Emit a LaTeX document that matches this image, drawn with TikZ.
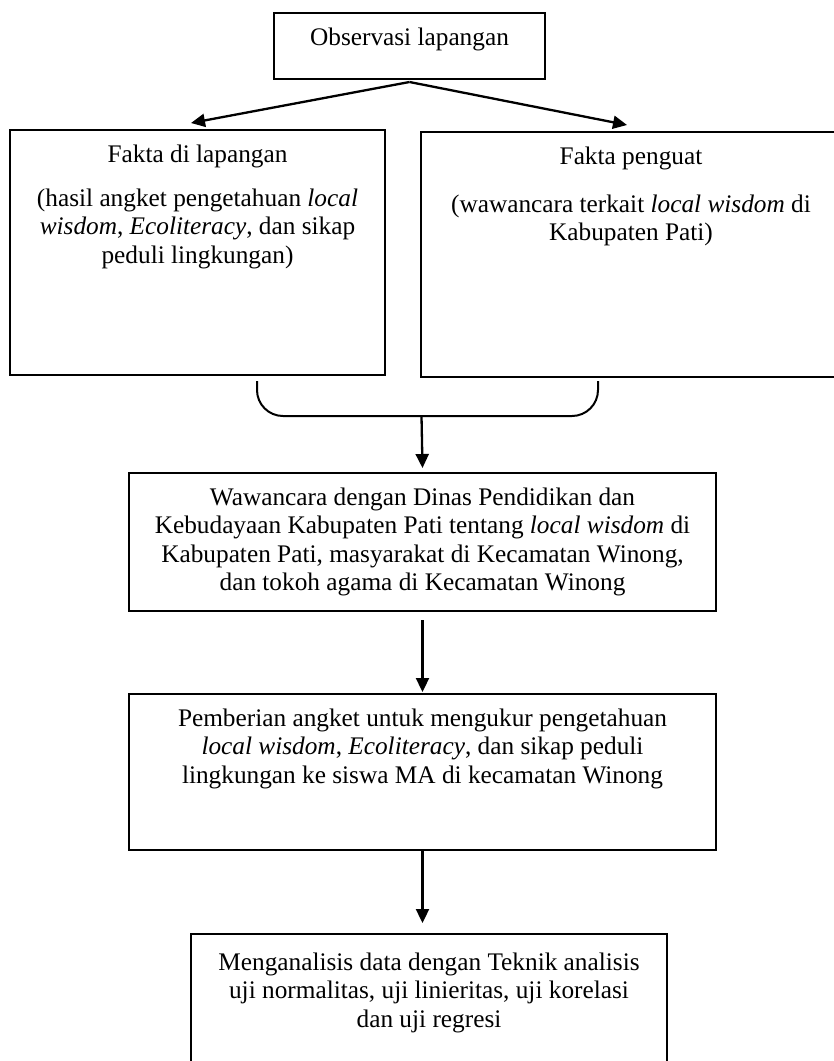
\documentclass[tikz,border=0pt]{standalone}
\usepackage{fontspec}
\setmainfont{Liberation Serif}
\usetikzlibrary{arrows.meta}
\newcommand{\boxtext}[3]{\parbox[t][#2][t]{#1}{\centering\fontsize{25.3pt}{28.5pt}\selectfont\rule{0pt}{32pt}#3}}
\begin{document}
\begin{tikzpicture}[x=1pt, y=-1pt,
		flowbox/.style={draw, line width=2pt, inner sep=0pt, anchor=north west},
		arr/.style={line width=2.3pt, -{Triangle[length=14pt,width=13pt]}},
		bracket/.style={line width=2pt, rounded corners=26pt}]
			\useasboundingbox (0,0) rectangle (834,1061);
			\node[flowbox] (obs) at (273,12) {\boxtext{271pt}{66pt}{Observasi lapangan}};
			\node[flowbox] (fakta) at (9,129) {\boxtext{375pt}{245pt}{Fakta di lapangan\\[15.5pt] (hasil angket pengetahuan \textit{local}\\ \textit{wisdom}, \textit{Ecoliteracy}, dan sikap\\ peduli lingkungan)}};
			\node[flowbox] (penguat) at (420,131) {\boxtext{420pt}{245pt}{Fakta penguat\\[19.5pt] (wawancara terkait \textit{local wisdom} di\\ Kabupaten Pati)}};
			\node[flowbox] (wawancara) at (128,472) {\boxtext{587pt}{138pt}{Wawancara dengan Dinas Pendidikan dan\\ Kebudayaan Kabupaten Pati tentang \textit{local wisdom} di\\ Kabupaten Pati, masyarakat di Kecamatan Winong,\\ dan tokoh agama di Kecamatan Winong}};
			\node[flowbox] (angket) at (128,693) {\boxtext{587pt}{156pt}{Pemberian angket untuk mengukur pengetahuan\\ \textit{local wisdom}, \textit{Ecoliteracy}, dan sikap peduli\\ lingkungan ke siswa MA di kecamatan Winong}};
			\node[flowbox] (analisis) at (190,933) {\boxtext{476pt}{180pt}{\rule{0pt}{36pt}Menganalisis data dengan Teknik analisis\\ uji normalitas, uji linieritas, uji korelasi\\ dan uji regresi}};
			\draw[bracket] (257,381) -- (257,416) -- (598,416) -- (598,381);
			\coordinate (join) at (421.5,416);
			\coordinate (tip3) at ([yshift=10pt]analisis.north);
			\draw[arr] ([yshift=-2pt]obs.south) -- ([xshift=-6.5pt,yshift=6pt]fakta.north);
			\draw[arr] ([yshift=-2pt]obs.south) -- ([xshift=-4pt,yshift=6pt]penguat.north);
			\draw[arr] (join) -- ([yshift=4pt]wawancara.north);
			\draw[arr] ([yshift=-8pt]wawancara.south) -- ([yshift=1pt]angket.north);
			\draw[arr] (angket.south) -- (angket.south |- tip3);
		\end{tikzpicture}
\end{document}
